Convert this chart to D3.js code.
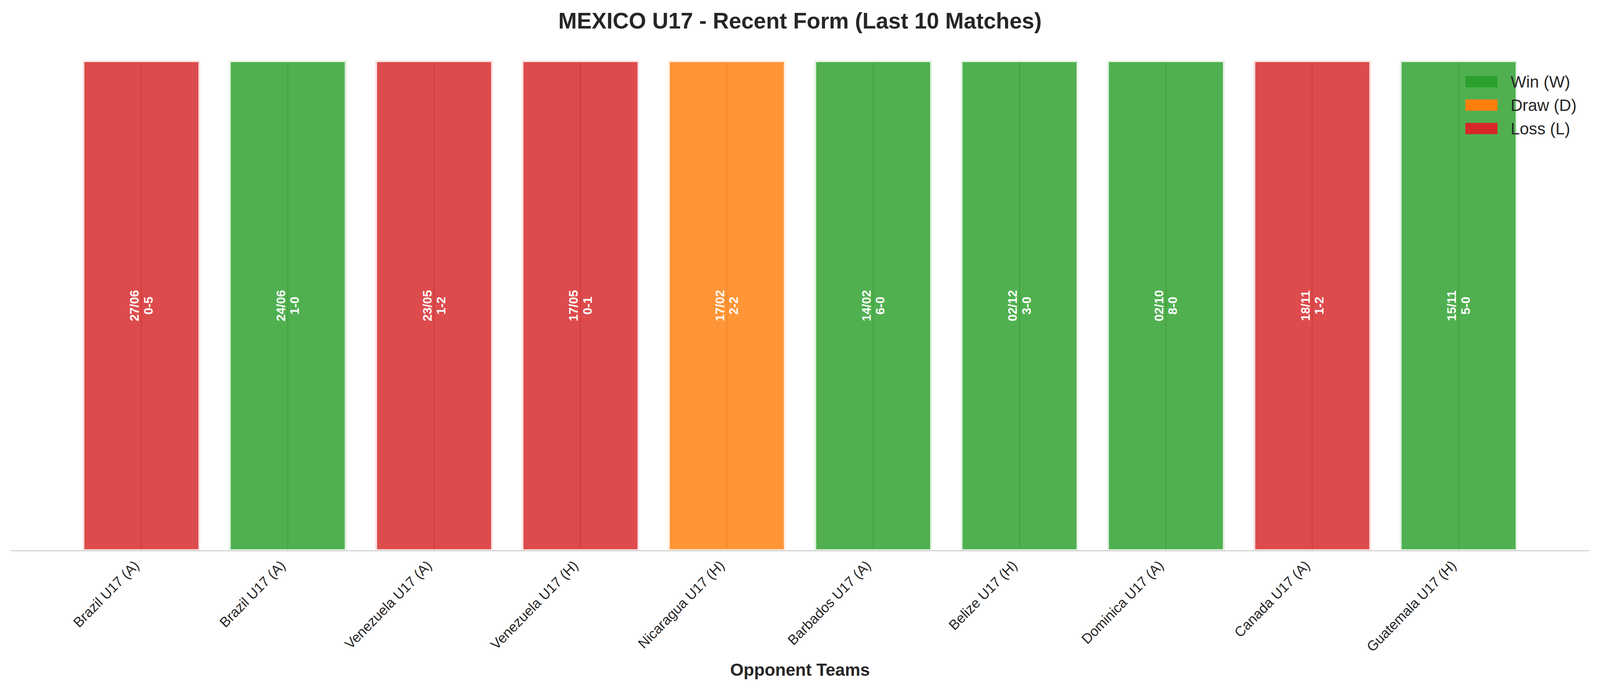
<!DOCTYPE html>
<html>
<head>
<meta charset="utf-8">
<script src="https://cdn.jsdelivr.net/npm/d3@7"></script>
<style>
  html, body { margin: 0; padding: 0; background: #fff; overflow: hidden; }
  #chart svg { display: block; }
  text { font-family: "Liberation Sans", Arial, sans-serif; fill: #262626; }
</style>
</head>
<body>
<div id="chart"></div>
<script>
var opponents = ["Brazil U17 (A)", "Brazil U17 (A)", "Venezuela U17 (A)", "Venezuela U17 (H)",
  "Nicaragua U17 (H)", "Barbados U17 (A)", "Belize U17 (H)", "Dominica U17 (A)",
  "Canada U17 (A)", "Guatemala U17 (H)"];
var dates = ["27/06", "24/06", "23/05", "17/05", "17/02", "14/02", "02/12", "02/10", "18/11", "15/11"];
var scores = ["0-5", "1-0", "1-2", "0-1", "2-2", "6-0", "3-0", "8-0", "1-2", "5-0"];
var results = ["L", "W", "L", "L", "D", "W", "W", "W", "L", "W"];
var heights = [1, 1, 1, 1, 1, 1, 1, 1, 1, 1];
var legendLabels = ["Win (W)", "Draw (D)", "Loss (L)"];
var legendKeys = ["W", "D", "L"];

var colors = {W: "#2ca02c", D: "#ff7f0e", L: "#d62728"};

var W = 4170, H = 1769;
// drawn in a fixed 4170x1769 coordinate space, stretched to the window
var svg = d3.select("#chart").append("svg")
    .attr("viewBox", "0 0 " + W + " " + H)
    .attr("preserveAspectRatio", "none")
    .style("width", "100vw")
    .style("height", "100vh");
svg.append("rect").attr("width", W).attr("height", H).attr("fill", "#fff");

// matplotlib style limits: bars at integer positions, width 0.8
var x = d3.scaleLinear().domain([-0.89, 9.89]).range([29, 4141]);
var y = d3.scaleLinear().domain([0, 1]).range([1410, 155]);
var bw = 0.8 * (x(1) - x(0));

var data = opponents.map(function(d, i) {
  return {i: i, team: d, date: dates[i], score: scores[i], res: results[i], h: heights[i]};
});

// vertical grid at category ticks (shows through the bars)
svg.append("g").selectAll("line")
  .data(data)
  .enter().append("line")
    .attr("x1", function(d) { return x(d.i); })
    .attr("x2", function(d) { return x(d.i); })
    .attr("y1", y(1))
    .attr("y2", y(0))
    .attr("stroke", "#b3b3b3")
    .attr("stroke-width", 3);

var bars = svg.append("g").selectAll("g")
  .data(data)
  .enter().append("g");

bars.append("rect")
    .attr("x", function(d) { return x(d.i) - bw / 2; })
    .attr("y", function(d) { return y(d.h); })
    .attr("width", bw)
    .attr("height", function(d) { return y(0) - y(d.h); })
    .attr("fill", function(d) { return colors[d.res]; })
    .attr("fill-opacity", 0.83);

// light edge just inside the bar
bars.append("rect")
    .attr("x", function(d) { return x(d.i) - bw / 2 + 2; })
    .attr("y", function(d) { return y(d.h) + 2; })
    .attr("width", bw - 4)
    .attr("height", function(d) { return y(0) - y(d.h) - 4; })
    .attr("fill", "none")
    .attr("stroke", "#fff")
    .attr("stroke-opacity", 0.85)
    .attr("stroke-width", 4);

var lbl = bars.append("text")
    .attr("transform", function(d) { return "translate(" + x(d.i) + "," + y(d.h / 2) + ") rotate(-90)"; })
    .attr("text-anchor", "middle")
    .style("font-size", "32px")
    .style("font-weight", "bold")
    .style("fill", "#fff");
lbl.append("tspan")
    .attr("x", 0).attr("y", -18)
    .attr("dominant-baseline", "central")
    .text(function(d) { return d.date; });
lbl.append("tspan")
    .attr("x", 0).attr("y", 18)
    .attr("dominant-baseline", "central")
    .text(function(d) { return d.score; });

// bottom spine
svg.append("line")
    .attr("x1", x.range()[0]).attr("x2", x.range()[1])
    .attr("y1", y(0)).attr("y2", y(0))
    .attr("stroke", "#cccccc")
    .attr("stroke-width", 2.5);

// tick labels
svg.append("g").selectAll("text")
  .data(data)
  .enter().append("text")
    .attr("transform", function(d) { return "translate(" + (x(d.i) - 4) + ",1450) rotate(-45)"; })
    .attr("text-anchor", "end")
    .style("font-size", "36px")
    .text(function(d) { return d.team; });

svg.append("text")
    .attr("x", 2085).attr("y", 1730)
    .attr("text-anchor", "middle")
    .style("font-size", "45px")
    .style("font-weight", "bold")
    .text("Opponent Teams");

svg.append("text")
    .attr("x", 2085).attr("y", 73)
    .attr("text-anchor", "middle")
    .style("font-size", "58px")
    .style("font-weight", "bold")
    .text("MEXICO U17 - Recent Form (Last 10 Matches)");

// legend
var lg = svg.append("g").selectAll("g")
  .data(legendKeys)
  .enter().append("g")
    .attr("transform", function(d, i) { return "translate(3819," + (209 + i * 60) + ")"; });
lg.append("rect")
    .attr("x", 0).attr("y", -14.5)
    .attr("width", 84).attr("height", 29)
    .attr("fill", function(d) { return colors[d]; });
lg.append("text")
    .attr("x", 118).attr("y", 0)
    .attr("dominant-baseline", "central")
    .style("font-size", "43px")
    .text(function(d, i) { return legendLabels[i]; });
</script>
</body>
</html>
